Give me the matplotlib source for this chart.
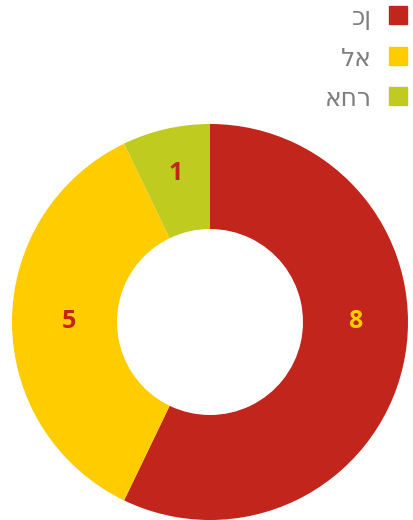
import numpy as np
import matplotlib.pyplot as plt
from matplotlib.patches import Rectangle

labels = ['כן', 'לא', 'אחר']
values = [8, 5, 1]
colors = ['#C1251C', '#FFCC00', '#BFCB1F']
label_colors = ['#FFCC00', '#C1251C', '#C1251C']

W, H = 414, 520
fig = plt.figure(figsize=(W / 100, H / 100), dpi=100)

# donut: centre (210, 322), outer radius 198 px
ax = fig.add_axes([12 / W, 0, 396 / W, 396 / H])
inner = 93 / 198
wedges, _ = ax.pie(values, colors=colors, startangle=90, counterclock=False,
                   radius=1, wedgeprops=dict(width=1 - inner, linewidth=0))
ax.set_xlim(-1, 1)
ax.set_ylim(-1, 1)
ax.set_aspect('equal')
ax.axis('off')

r_mid = (1 + inner) / 2
for i, (w, v, c) in enumerate(zip(wedges, values, label_colors)):
    a = (w.theta1 + w.theta2) / 2
    r = r_mid
    if i == 0:
        a = 0  # the big slice's label sits at 3 o'clock
    elif i == 1:
        r = r_mid * 0.97
    else:
        r = r_mid * 1.05
    ang = np.deg2rad(a)
    ax.text(r * np.cos(ang), r * np.sin(ang), str(v), color=c,
            fontsize=18, fontweight='bold', ha='center', va='center',
            family='Open Sans')

# legend on the top right
ys = [15, 56, 96]
for lab, col, y in zip(labels, colors, ys):
    fig.patches.append(Rectangle((389 / W, 1 - (y + 9) / H), 18 / W, 18 / H,
                                 transform=fig.transFigure, color=col))
    fig.text(372 / W, 1 - (y + 3) / H, lab, ha='right', va='center',
             fontsize=18, color='#7F7F7F', family='DejaVu Sans')

fig.savefig('out.png', dpi=100)
